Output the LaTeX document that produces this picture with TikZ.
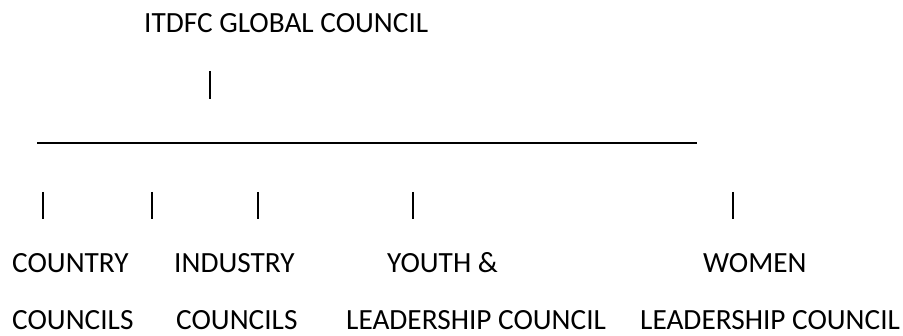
\documentclass[tikz,border=0pt]{standalone}
\usepackage{fontspec}
\setmainfont{Carlito}
\usepackage{tikz}

\tikzset{
  lbl/.style={anchor=base west, inner sep=0pt, font=\fontsize{29.3}{34}\selectfont},
  bar/.style={line width=1.6pt},
}

\begin{document}
\begin{tikzpicture}[x=1pt,y=-1pt]
  \useasboundingbox (0,0) rectangle (903,336);

  \draw (144,33) node[lbl] (global) {ITDFC GLOBAL COUNCIL};
  \coordinate (globalbar-t) at (210,71);
  \coordinate (globalbar-b) at (210,99);
  \draw[bar] (globalbar-t) -- (globalbar-b);

  \coordinate (line-w) at (37,143);
  \coordinate (line-e) at (697,143);
  \draw[bar] (line-w) -- (line-e);

  \coordinate (countrybar-t) at (43,192);
  \coordinate (countrybar-b) at (43,219);
  \coordinate (midbar-t) at (152,192);
  \coordinate (midbar-b) at (152,219);
  \coordinate (industrybar-t) at (258,192);
  \coordinate (industrybar-b) at (258,219);
  \coordinate (youthbar-t) at (413,192);
  \coordinate (youthbar-b) at (413,219);
  \coordinate (womenbar-t) at (733,192);
  \coordinate (womenbar-b) at (733,219);
  \draw[bar] (countrybar-t) -- (countrybar-b);
  \draw[bar] (midbar-t) -- (midbar-b);
  \draw[bar] (industrybar-t) -- (industrybar-b);
  \draw[bar] (youthbar-t) -- (youthbar-b);
  \draw[bar] (womenbar-t) -- (womenbar-b);

  \draw (12,273) node[lbl] (country) {COUNTRY};
  \draw (174,273) node[lbl] (industry) {INDUSTRY};
  \draw (387,273) node[lbl] (youth) {YOUTH \&};
  \draw (703,273) node[lbl] (women) {WOMEN};

  \draw (12,330) node[lbl] (countryc) {COUNCILS};
  \draw (176,330) node[lbl] (industryc) {COUNCILS};
  \draw (346,330) node[lbl] (youthc) {LEADERSHIP COUNCIL};
  \draw (640,330) node[lbl] (womenc) {LEADERSHIP COUNCIL};

\end{tikzpicture}
\end{document}
